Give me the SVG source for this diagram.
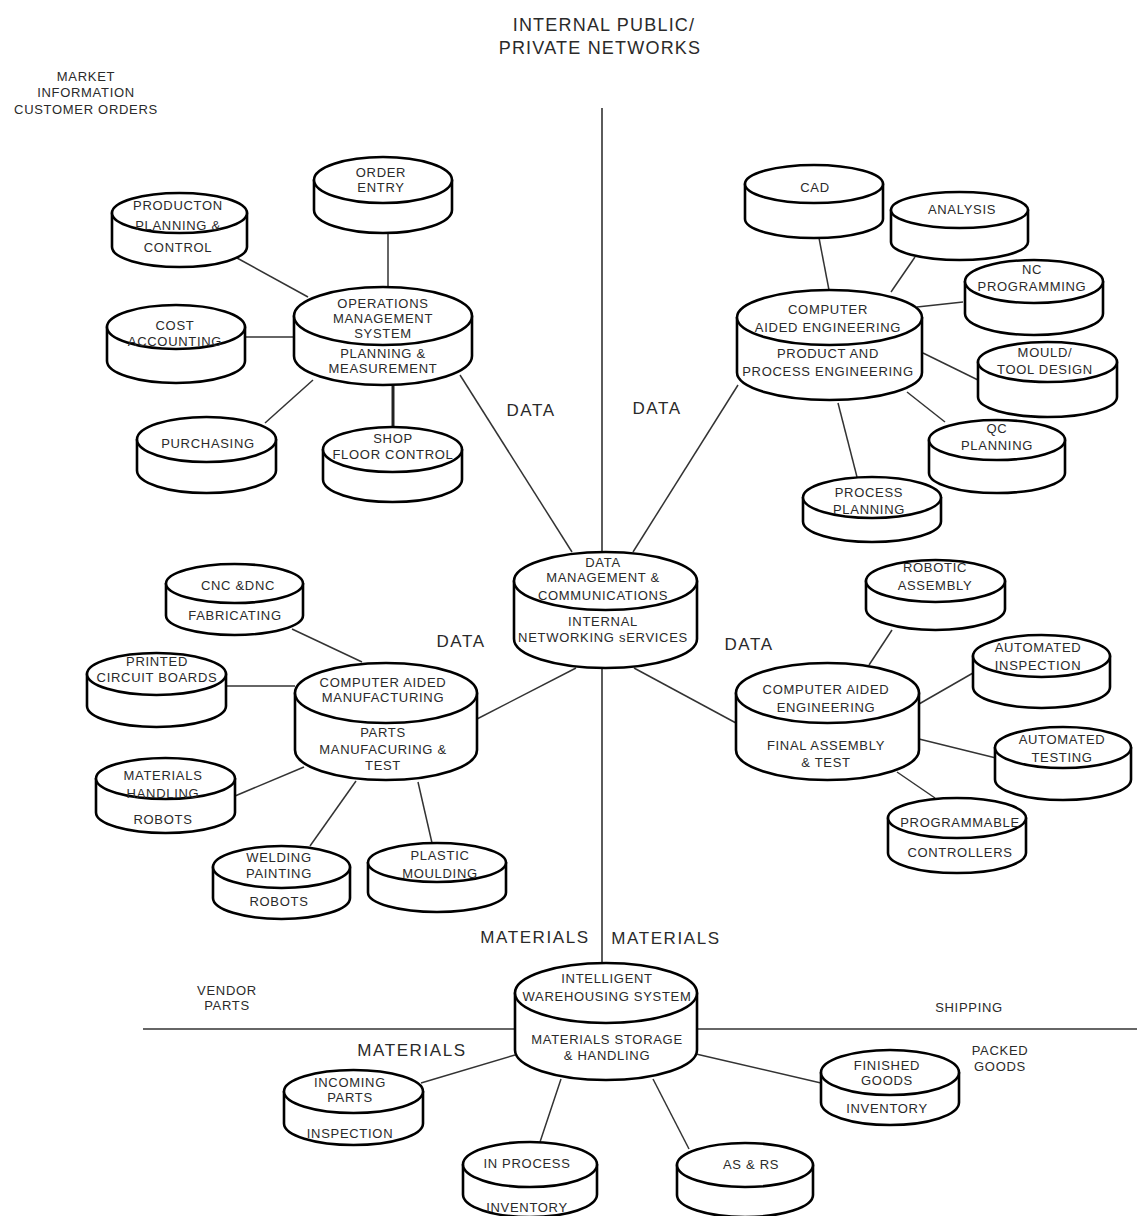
<svg xmlns="http://www.w3.org/2000/svg" width="1137" height="1216" viewBox="0 0 1137 1216">
  <style>
    .body { fill: #fff; stroke: #000; stroke-width: 2.6; stroke-linejoin: round; }
    .top { fill: #fff; stroke: #000; stroke-width: 2.6; }
    .link { fill: none; stroke: #333; stroke-width: 1.5; }
    .link-heavy { fill: none; stroke: #222; stroke-width: 3; }
    .axis { fill: none; stroke: #333; stroke-width: 1.6; }
    text { font-family: "Liberation Sans", Arial, sans-serif; fill: #2a2a2a; text-anchor: middle; }
    .t { font-size: 13px; letter-spacing: 0.7px; }
    .big { font-size: 17px; letter-spacing: 1.6px; }
    .title { font-size: 18px; letter-spacing: 1.2px; }
  </style>
  <rect width="1137" height="1216" fill="#fff"/>

  <!-- free-standing labels -->
  <g id="labels">
    <text class="title" x="604" y="31">INTERNAL PUBLIC/</text>
    <text class="title" x="600" y="54">PRIVATE NETWORKS</text>
    <text class="t" x="86" y="81">MARKET</text>
    <text class="t" x="86" y="97">INFORMATION</text>
    <text class="t" x="86" y="114">CUSTOMER ORDERS</text>
    <text class="big" x="531" y="416">DATA</text>
    <text class="big" x="657" y="414">DATA</text>
    <text class="big" x="461" y="647">DATA</text>
    <text class="big" x="749" y="650">DATA</text>
    <text class="big" x="535" y="943">MATERIALS</text>
    <text class="big" x="666" y="944">MATERIALS</text>
    <text class="big" x="412" y="1056">MATERIALS</text>
    <text class="t" x="227" y="995">VENDOR</text>
    <text class="t" x="227" y="1010">PARTS</text>
    <text class="t" x="969" y="1012">SHIPPING</text>
    <text class="t" x="1000" y="1055">PACKED</text>
    <text class="t" x="1000" y="1071">GOODS</text>
  </g>

  <!-- connectors -->
  <g id="connectors">
    <path class="axis" d="M602,108 L602,552"/>
    <path class="axis" d="M602,668 L602,963"/>
    <path class="axis" d="M143,1029 L515,1029"/>
    <path class="axis" d="M697,1029 L1137,1029"/>
    <path class="link" d="M388,233 L388,287"/>
    <path class="link" d="M237,258 L308,297"/>
    <path class="link" d="M245,337 L294,337"/>
    <path class="link" d="M265,423 L313,380"/>
    <path class="link-heavy" d="M393,385 L393,427"/>
    <path class="link" d="M460,375 L572,552"/>
    <path class="link" d="M738,385 L633,552"/>
    <path class="link" d="M819,238 L829,290"/>
    <path class="link" d="M915,257 L891,292"/>
    <path class="link" d="M963,302 L917,307"/>
    <path class="link" d="M923,353 L978,380"/>
    <path class="link" d="M907,392 L945,422"/>
    <path class="link" d="M838,403 L857,477"/>
    <path class="link" d="M477,719 L576,668"/>
    <path class="link" d="M292,629 L362,662"/>
    <path class="link" d="M226,686 L295,686"/>
    <path class="link" d="M235,796 L304,767"/>
    <path class="link" d="M310,846 L356,781"/>
    <path class="link" d="M418,782 L432,843"/>
    <path class="link" d="M736,723 L634,668"/>
    <path class="link" d="M892,630 L869,665"/>
    <path class="link" d="M973,673 L919,704"/>
    <path class="link" d="M919,739 L996,758"/>
    <path class="link" d="M897,772 L935,798"/>
    <path class="link" d="M421,1083 L515,1055"/>
    <path class="link" d="M540,1142 L561,1079"/>
    <path class="link" d="M653,1079 L689,1149"/>
    <path class="link" d="M696,1054 L821,1083"/>
  </g>

  <!-- hub -->
  <g id="data-management">
    <path class="body" d="M514,581 V639 A91.5,29 0 0 0 697,639 V581 Z"/>
    <ellipse class="top" cx="605.5" cy="581" rx="91.5" ry="29"/>
    <text class="t" x="603" y="567">DATA</text>
    <text class="t" x="603" y="582">MANAGEMENT &amp;</text>
    <text class="t" x="603" y="600">COMMUNICATIONS</text>
    <text class="t" x="603" y="626">INTERNAL</text>
    <text class="t" x="603" y="642">NETWORKING sERVICES</text>
  </g>

  <!-- operations cluster -->
  <g id="operations-management">
    <path class="body" d="M294,316 V356 A89,29 0 0 0 472,356 V316 Z"/>
    <ellipse class="top" cx="383" cy="316" rx="89" ry="29"/>
    <text class="t" x="383" y="308">OPERATIONS</text>
    <text class="t" x="383" y="323">MANAGEMENT</text>
    <text class="t" x="383" y="338">SYSTEM</text>
    <text class="t" x="383" y="358">PLANNING &amp;</text>
    <text class="t" x="383" y="373">MEASUREMENT</text>
  </g>
  <g id="order-entry">
    <path class="body" d="M314,180 V210 A69,23 0 0 0 452,210 V180 Z"/>
    <ellipse class="top" cx="383" cy="180" rx="69" ry="23"/>
    <text class="t" x="381" y="177">ORDER</text>
    <text class="t" x="381" y="192">ENTRY</text>
  </g>
  <g id="production-planning">
    <path class="body" d="M112,213 V247 A67.5,20 0 0 0 247,247 V213 Z"/>
    <ellipse class="top" cx="179.5" cy="213" rx="67.5" ry="20"/>
    <text class="t" x="178" y="210">PRODUCTON</text>
    <text class="t" x="178" y="230">PLANNING &amp;</text>
    <text class="t" x="178" y="252">CONTROL</text>
  </g>
  <g id="cost-accounting">
    <path class="body" d="M107,327 V361 A69,22 0 0 0 245,361 V327 Z"/>
    <ellipse class="top" cx="176" cy="327" rx="69" ry="22"/>
    <text class="t" x="175" y="330">COST</text>
    <text class="t" x="175" y="346">ACCOUNTING</text>
  </g>
  <g id="purchasing">
    <path class="body" d="M137,439.5 V470.5 A69.5,22.5 0 0 0 276,470.5 V439.5 Z"/>
    <ellipse class="top" cx="206.5" cy="439.5" rx="69.5" ry="22.5"/>
    <text class="t" x="208" y="448">PURCHASING</text>
  </g>
  <g id="shop-floor-control">
    <path class="body" d="M323,449.5 V479.5 A69.5,22.5 0 0 0 462,479.5 V449.5 Z"/>
    <ellipse class="top" cx="392.5" cy="449.5" rx="69.5" ry="22.5"/>
    <text class="t" x="393" y="443">SHOP</text>
    <text class="t" x="393" y="459">FLOOR CONTROL</text>
  </g>

  <!-- engineering cluster -->
  <g id="cae-product-process">
    <path class="body" d="M737,317.5 V372.5 A92.5,27.5 0 0 0 922,372.5 V317.5 Z"/>
    <ellipse class="top" cx="829.5" cy="317.5" rx="92.5" ry="27.5"/>
    <text class="t" x="828" y="314">COMPUTER</text>
    <text class="t" x="828" y="332">AIDED ENGINEERING</text>
    <text class="t" x="828" y="358">PRODUCT AND</text>
    <text class="t" x="828" y="376">PROCESS ENGINEERING</text>
  </g>
  <g id="cad">
    <path class="body" d="M745,184 V219 A69,19 0 0 0 883,219 V184 Z"/>
    <ellipse class="top" cx="814" cy="184" rx="69" ry="19"/>
    <text class="t" x="815" y="192">CAD</text>
  </g>
  <g id="analysis">
    <path class="body" d="M891,210 V242 A68.5,18 0 0 0 1028,242 V210 Z"/>
    <ellipse class="top" cx="959.5" cy="210" rx="68.5" ry="18"/>
    <text class="t" x="962" y="214">ANALYSIS</text>
  </g>
  <g id="nc-programming">
    <path class="body" d="M965,281.5 V313.5 A69,21.5 0 0 0 1103,313.5 V281.5 Z"/>
    <ellipse class="top" cx="1034" cy="281.5" rx="69" ry="21.5"/>
    <text class="t" x="1032" y="274">NC</text>
    <text class="t" x="1032" y="291">PROGRAMMING</text>
  </g>
  <g id="mould-tool-design">
    <path class="body" d="M978,362 V397 A69.5,20 0 0 0 1117,397 V362 Z"/>
    <ellipse class="top" cx="1047.5" cy="362" rx="69.5" ry="20"/>
    <text class="t" x="1045" y="357">MOULD/</text>
    <text class="t" x="1045" y="374">TOOL DESIGN</text>
  </g>
  <g id="qc-planning">
    <path class="body" d="M929,440 V473 A68,20 0 0 0 1065,473 V440 Z"/>
    <ellipse class="top" cx="997" cy="440" rx="68" ry="20"/>
    <text class="t" x="997" y="433">QC</text>
    <text class="t" x="997" y="450">PLANNING</text>
  </g>
  <g id="process-planning">
    <path class="body" d="M803,497.5 V521.5 A69,20.5 0 0 0 941,521.5 V497.5 Z"/>
    <ellipse class="top" cx="872" cy="497.5" rx="69" ry="20.5"/>
    <text class="t" x="869" y="497">PROCESS</text>
    <text class="t" x="869" y="514">PLANNING</text>
  </g>

  <!-- manufacturing cluster -->
  <g id="cam-parts">
    <path class="body" d="M295,693 V750 A91,30 0 0 0 477,750 V693 Z"/>
    <ellipse class="top" cx="386" cy="693" rx="91" ry="30"/>
    <text class="t" x="383" y="687">COMPUTER AIDED</text>
    <text class="t" x="383" y="702">MANUFACTURING</text>
    <text class="t" x="383" y="737">PARTS</text>
    <text class="t" x="383" y="754">MANUFACURING &amp;</text>
    <text class="t" x="383" y="770">TEST</text>
  </g>
  <g id="cnc-dnc">
    <path class="body" d="M166,583.5 V615.5 A68.5,19.5 0 0 0 303,615.5 V583.5 Z"/>
    <ellipse class="top" cx="234.5" cy="583.5" rx="68.5" ry="19.5"/>
    <text class="t" x="238" y="590">CNC &amp;DNC</text>
    <text class="t" x="235" y="620">FABRICATING</text>
  </g>
  <g id="printed-circuit-boards">
    <path class="body" d="M87,674 V706 A69.5,21 0 0 0 226,706 V674 Z"/>
    <ellipse class="top" cx="156.5" cy="674" rx="69.5" ry="21"/>
    <text class="t" x="157" y="666">PRINTED</text>
    <text class="t" x="157" y="682">CIRCUIT BOARDS</text>
  </g>
  <g id="materials-handling">
    <path class="body" d="M96,778.5 V812.5 A69.5,20.5 0 0 0 235,812.5 V778.5 Z"/>
    <ellipse class="top" cx="165.5" cy="778.5" rx="69.5" ry="20.5"/>
    <text class="t" x="163" y="780">MATERIALS</text>
    <text class="t" x="163" y="798">HANDLING</text>
    <text class="t" x="163" y="824">ROBOTS</text>
  </g>
  <g id="welding-painting">
    <path class="body" d="M213,867 V898 A68.5,21 0 0 0 350,898 V867 Z"/>
    <ellipse class="top" cx="281.5" cy="867" rx="68.5" ry="21"/>
    <text class="t" x="279" y="862">WELDING</text>
    <text class="t" x="279" y="878">PAINTING</text>
    <text class="t" x="279" y="906">ROBOTS</text>
  </g>
  <g id="plastic-moulding">
    <path class="body" d="M368,862.5 V892.5 A69,19.5 0 0 0 506,892.5 V862.5 Z"/>
    <ellipse class="top" cx="437" cy="862.5" rx="69" ry="19.5"/>
    <text class="t" x="440" y="860">PLASTIC</text>
    <text class="t" x="440" y="878">MOULDING</text>
  </g>

  <!-- assembly cluster -->
  <g id="cae-final-assembly">
    <path class="body" d="M736,693 V750 A91.5,30 0 0 0 919,750 V693 Z"/>
    <ellipse class="top" cx="827.5" cy="693" rx="91.5" ry="30"/>
    <text class="t" x="826" y="694">COMPUTER AIDED</text>
    <text class="t" x="826" y="712">ENGINEERING</text>
    <text class="t" x="826" y="750">FINAL ASSEMBLY</text>
    <text class="t" x="826" y="767">&amp; TEST</text>
  </g>
  <g id="robotic-assembly">
    <path class="body" d="M866,581 V609 A69.5,21 0 0 0 1005,609 V581 Z"/>
    <ellipse class="top" cx="935.5" cy="581" rx="69.5" ry="21"/>
    <text class="t" x="935" y="572">ROBOTIC</text>
    <text class="t" x="935" y="590">ASSEMBLY</text>
  </g>
  <g id="automated-inspection">
    <path class="body" d="M973,656 V687 A68.5,21 0 0 0 1110,687 V656 Z"/>
    <ellipse class="top" cx="1041.5" cy="656" rx="68.5" ry="21"/>
    <text class="t" x="1038" y="652">AUTOMATED</text>
    <text class="t" x="1038" y="670">INSPECTION</text>
  </g>
  <g id="automated-testing">
    <path class="body" d="M995,747.5 V779.5 A68,20.5 0 0 0 1131,779.5 V747.5 Z"/>
    <ellipse class="top" cx="1063" cy="747.5" rx="68" ry="20.5"/>
    <text class="t" x="1062" y="744">AUTOMATED</text>
    <text class="t" x="1062" y="762">TESTING</text>
  </g>
  <g id="programmable-controllers">
    <path class="body" d="M888,818 V853 A69,20 0 0 0 1026,853 V818 Z"/>
    <ellipse class="top" cx="957" cy="818" rx="69" ry="20"/>
    <text class="t" x="960" y="827">PROGRAMMABLE</text>
    <text class="t" x="960" y="857">CONTROLLERS</text>
  </g>

  <!-- warehousing cluster -->
  <g id="warehousing-system">
    <path class="body" d="M515,993 V1050 A91,30 0 0 0 697,1050 V993 Z"/>
    <ellipse class="top" cx="606" cy="993" rx="91" ry="30"/>
    <text class="t" x="607" y="983">INTELLIGENT</text>
    <text class="t" x="607" y="1001">WAREHOUSING SYSTEM</text>
    <text class="t" x="607" y="1044">MATERIALS STORAGE</text>
    <text class="t" x="607" y="1060">&amp; HANDLING</text>
  </g>
  <g id="incoming-parts">
    <path class="body" d="M284,1091.5 V1123.5 A69.5,21.5 0 0 0 423,1123.5 V1091.5 Z"/>
    <ellipse class="top" cx="353.5" cy="1091.5" rx="69.5" ry="21.5"/>
    <text class="t" x="350" y="1087">INCOMING</text>
    <text class="t" x="350" y="1102">PARTS</text>
    <text class="t" x="350" y="1138">INSPECTION</text>
  </g>
  <g id="in-process-inventory">
    <path class="body" d="M463,1164.5 V1194.5 A67,22.5 0 0 0 597,1194.5 V1164.5 Z"/>
    <ellipse class="top" cx="530" cy="1164.5" rx="67" ry="22.5"/>
    <text class="t" x="527" y="1168">IN PROCESS</text>
    <text class="t" x="527" y="1212">INVENTORY</text>
  </g>
  <g id="as-rs">
    <path class="body" d="M677,1165 V1195 A68,22 0 0 0 813,1195 V1165 Z"/>
    <ellipse class="top" cx="745" cy="1165" rx="68" ry="22"/>
    <text class="t" x="751" y="1169">AS &amp; RS</text>
  </g>
  <g id="finished-goods">
    <path class="body" d="M821,1072.5 V1102.5 A69,22.5 0 0 0 959,1102.5 V1072.5 Z"/>
    <ellipse class="top" cx="890" cy="1072.5" rx="69" ry="22.5"/>
    <text class="t" x="887" y="1070">FINISHED</text>
    <text class="t" x="887" y="1085">GOODS</text>
    <text class="t" x="887" y="1113">INVENTORY</text>
  </g>
</svg>
